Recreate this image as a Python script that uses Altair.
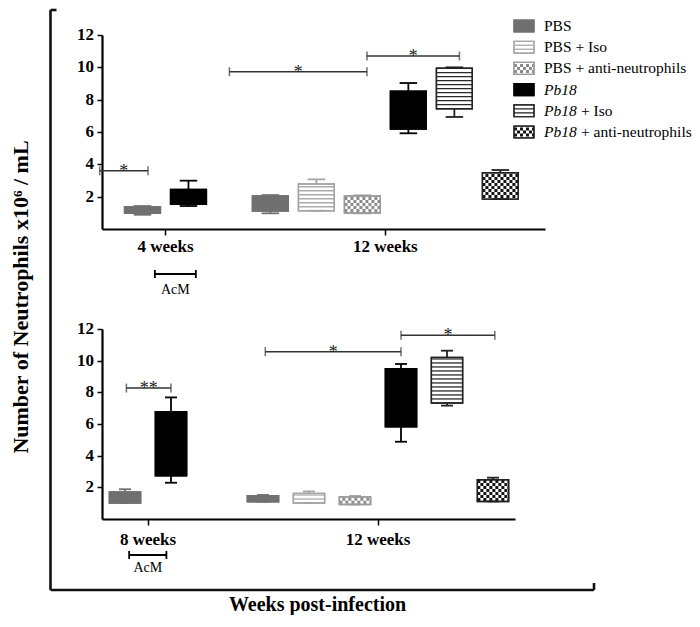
import altair as alt
import numpy as np
import pandas as pd

# ---------------- data ----------------
SERIES = ["PBS", "PBS + Iso", "PBS + anti-neutrophils",
          "Pb18", "Pb18 + Iso", "Pb18 + anti-neutrophils"]

# Upper panel
top_group = ["4 weeks", "4 weeks", "12 weeks", "12 weeks", "12 weeks",
             "12 weeks", "12 weeks", "12 weeks"]
top_series = ["PBS", "Pb18", "PBS", "PBS + Iso", "PBS + anti-neutrophils",
              "Pb18", "Pb18 + Iso", "Pb18 + anti-neutrophils"]
top_min = [0.88, 1.42, 0.97, 1.13, 0.97, 5.92, 6.93, 1.85]
top_q1 = [0.97, 1.53, 1.11, 1.13, 0.99, 6.18, 7.44, 1.85]
top_q3 = [1.38, 2.45, 2.04, 2.78, 2.04, 8.53, 9.94, 3.48]
top_max = [1.42, 2.99, 2.10, 3.07, 2.08, 9.03, 10.00, 3.65]
top_sig_x1 = [-0.05, 2.77, 5.76]
top_sig_x2 = [1.00, 5.76, 7.77]
top_sig_y = [3.60, 9.73, 10.70]
top_sig_label = ["*", "*", "*"]
top_acm = [1.15, 2.04]

# Lower panel
bot_group = ["8 weeks", "8 weeks", "12 weeks", "12 weeks", "12 weeks",
             "12 weeks", "12 weeks", "12 weeks"]
bot_series = ["PBS", "Pb18", "PBS", "PBS + Iso", "PBS + anti-neutrophils",
              "Pb18", "Pb18 + Iso", "Pb18 + anti-neutrophils"]
bot_min = [1.01, 2.29, 1.09, 1.01, 0.92, 4.88, 7.16, 1.11]
bot_q1 = [1.01, 2.73, 1.09, 1.01, 0.92, 5.83, 7.33, 1.11]
bot_q3 = [1.71, 6.78, 1.47, 1.62, 1.39, 9.49, 10.21, 2.48]
bot_max = [1.88, 7.68, 1.52, 1.74, 1.45, 9.79, 10.63, 2.61]
bot_sig_x1 = [0.53, 3.55, 6.50]
bot_sig_x2 = [1.50, 6.50, 8.54]
bot_sig_y = [8.27, 10.57, 11.60]
bot_sig_label = ["**", "*", "*"]
bot_acm = [0.59, 1.40]

acm_label = "AcM"
y_title = "Number of Neutrophils x10\u2076 / mL"
x_title = "Weeks post-infection"
y_ticks = [2, 4, 6, 8, 10, 12]

# ---------------- styles ----------------
FONT = "Liberation Serif"
FILLS = ["#707070", "#ffffff", "#ffffff", "#000000", "#ffffff", "#ffffff"]
STROKES = ["#707070", "#a4a4a4", "#9a9a9a", "#000000", "#222222", "#222222"]
PATTERN = {"PBS + Iso": ("stripe", "#acacac"),
           "Pb18 + Iso": ("stripe", "#2a2a2a"),
           "PBS + anti-neutrophils": ("check", "#8c8c8c"),
           "Pb18 + anti-neutrophils": ("check", "#151515")}
STRIPE_PX = 4.0
CHECK_PX = 3.0
fill_scale = alt.Scale(domain=SERIES, range=FILLS)
stroke_scale = alt.Scale(domain=SERIES, range=STROKES)
AX = dict(labels=False, domainColor="black", tickColor="black", domainWidth=2.2,
          tickWidth=1.5, grid=False, title=None)


def pattern_rows(frame, lo, hi, unit_px):
    rows = []
    for _, r in frame.iterrows():
        if r["series"] not in PATTERN:
            continue
        kind, col = PATTERN[r["series"]]
        a, b = r[lo], r[hi]
        if kind == "stripe":
            step = STRIPE_PX / unit_px
            n = int(np.floor((b - a) / step))
            for k in range(1, n + 1):
                yv = a + k * step
                if yv < b - step * 0.3:
                    rows.append(dict(kind="stripe", y=yv, pc=col, par=0,
                                     **{c: r[c] for c in r.index}))
        else:
            step = CHECK_PX / unit_px
            n = int(np.floor((b - a) / step))
            off = ((b - a) - n * step) / 2
            for k in range(n):
                rows.append(dict(kind="check", y=a + off + (k + 0.5) * step, pc=col,
                                 par=k % 2, **{c: r[c] for c in r.index}))
    return pd.DataFrame(rows)


def panel(groups, ser, mn, q1, q3, mx, sx1, sx2, sy, slab, acm, geo, extra=None):
    W, H = geo["width"], geo["height"]
    ppu_y = H / 12.0
    ppu_x = 46.0
    xs = alt.Scale(domain=[0, W / ppu_x], nice=False, zero=False)
    ys = alt.Scale(domain=[0, 12], nice=False, zero=False)

    df = pd.DataFrame(dict(group=groups, series=ser, lo=mn, q1=q1, q3=q3, hi=mx))
    order = list(dict.fromkeys(groups))
    df["gi"] = df["group"].map(order.index)
    df["slot"] = df.groupby("group").cumcount()
    df["pos"] = [geo["starts"][g] for g in df["gi"]] + df["slot"]
    df["xa"] = df["pos"] - geo["half"]
    df["xb"] = df["pos"] + geo["half"]
    df["ca"] = df["pos"] - geo["cap"]
    df["cb"] = df["pos"] + geo["cap"]
    centers = [float(df[df.gi == g]["pos"].mean()) for g in range(len(order))]

    xaxis = alt.Axis(values=centers, tickSize=6, **AX)
    yaxis = alt.Axis(values=y_ticks, tickSize=5, **AX)

    def XQ(f):
        return alt.X(f, type="quantitative", scale=xs, axis=xaxis)

    def YQ(f):
        return alt.Y(f, type="quantitative", scale=ys, axis=yaxis)

    base = alt.Chart(df)
    box = base.mark_rect(strokeWidth=1.4).encode(
        x=XQ("xa"), x2="xb:Q", y=YQ("q1"), y2="q3:Q",
        fill=alt.Fill("series:N", scale=fill_scale, legend=None),
        stroke=alt.Stroke("series:N", scale=stroke_scale, legend=None))

    pat = pattern_rows(df, "q1", "q3", ppu_y)
    stripes = alt.Chart(pat[pat.kind == "stripe"]).mark_rule(strokeWidth=1.3).encode(
        x=XQ("xa"), x2="xb:Q", y=YQ("y"), color=alt.Color("pc:N", scale=None))
    chk0 = alt.Chart(pat[(pat.kind == "check") & (pat.par == 0)]).mark_rule(
        strokeWidth=CHECK_PX, strokeDash=[CHECK_PX, CHECK_PX], strokeCap="butt").encode(
        x=XQ("xa"), x2="xb:Q", y=YQ("y"), color=alt.Color("pc:N", scale=None))
    chk1 = alt.Chart(pat[(pat.kind == "check") & (pat.par == 1)]).mark_rule(
        strokeWidth=CHECK_PX, strokeDash=[CHECK_PX, CHECK_PX], strokeDashOffset=CHECK_PX,
        strokeCap="butt").encode(
        x=XQ("xa"), x2="xb:Q", y=YQ("y"), color=alt.Color("pc:N", scale=None))
    outline = base.mark_rect(fillOpacity=0, strokeWidth=1.4).encode(
        x=XQ("xa"), x2="xb:Q", y=YQ("q1"), y2="q3:Q",
        stroke=alt.Stroke("series:N", scale=stroke_scale, legend=None))
    wlo = base.mark_rule(strokeWidth=1.8).encode(
        x=XQ("pos"), y=YQ("lo"), y2="q1:Q",
        stroke=alt.Stroke("series:N", scale=stroke_scale, legend=None))
    whi = base.mark_rule(strokeWidth=1.8).encode(
        x=XQ("pos"), y=YQ("q3"), y2="hi:Q",
        stroke=alt.Stroke("series:N", scale=stroke_scale, legend=None))
    clo = base.mark_rule(strokeWidth=1.8).encode(
        x=XQ("ca"), x2="cb:Q", y=YQ("lo"),
        stroke=alt.Stroke("series:N", scale=stroke_scale, legend=None))
    chi = base.mark_rule(strokeWidth=1.8).encode(
        x=XQ("ca"), x2="cb:Q", y=YQ("hi"),
        stroke=alt.Stroke("series:N", scale=stroke_scale, legend=None))

    # axis labels (serif bold, as text marks positioned by the scales)
    ylab = pd.DataFrame(dict(v=y_ticks, t=[str(v) for v in y_ticks]))
    ylab_txt = alt.Chart(ylab).mark_text(font=FONT, fontSize=17, fontWeight="bold",
                                         align="right", baseline="middle", dx=-8,
                                         color="black").encode(
        x=alt.value(0), y=YQ("v"), text="t:N")
    xlab = pd.DataFrame(dict(c=centers, t=order))
    xlab_txt = alt.Chart(xlab).mark_text(font=FONT, fontSize=17, fontWeight="bold",
                                         align="center", baseline="middle",
                                         color="black").encode(
        x=XQ("c"), y=alt.value(H + geo["xlab"]), text="t:N")

    sig = pd.DataFrame(dict(x1=sx1, x2=sx2, y=sy, lab=slab))
    sig["xm"] = (sig.x1 + sig.x2) / 2
    sig_long = pd.concat([sig[["x1", "y"]].rename(columns={"x1": "x"}),
                          sig[["x2", "y"]].rename(columns={"x2": "x"})])
    sig_line = alt.Chart(sig).mark_rule(strokeWidth=1.5, color="#333333").encode(
        x=XQ("x1"), x2="x2:Q", y=YQ("y"))
    sig_tick = alt.Chart(sig_long).mark_tick(orient="vertical", size=9, thickness=1.5,
                                             color="#333333").encode(
        x=XQ("x"), y=YQ("y"))
    sig_txt = alt.Chart(sig).mark_text(font=FONT, fontSize=18, baseline="alphabetic",
                                       dy=6, color="#222222").encode(
        x=XQ("xm"), y=YQ("y"), text="lab:N")

    ac = pd.DataFrame(dict(a=[acm[0]], b=[acm[1]], m=[(acm[0] + acm[1]) / 2], t=[acm_label]))
    ac_long = pd.DataFrame(dict(x=acm))
    ay = H + geo["acm_off"]
    acm_line = alt.Chart(ac).mark_rule(strokeWidth=1.8, color="black").encode(
        x=XQ("a"), x2="b:Q", y=alt.value(ay))
    acm_tick = alt.Chart(ac_long).mark_rule(strokeWidth=1.8, color="black").encode(
        x=XQ("x"), y=alt.value(ay - 4), y2=alt.value(ay + 4))
    acm_txt = alt.Chart(ac).mark_text(font=FONT, fontSize=14, baseline="middle",
                                      color="black").encode(
        x=XQ("m"), y=alt.value(H + geo["acm_txt"]), text="t:N")

    main = alt.layer(box, stripes, chk0, chk1, outline, wlo, whi, clo, chi,
                     ylab_txt, xlab_txt,
                     sig_line, sig_tick, sig_txt, acm_line, acm_tick, acm_txt)
    if extra is not None:
        main = alt.layer(main, *extra).resolve_scale(y="independent")
    return main.properties(width=W, height=H)


# ---------------- legend (upper panel) ----------------
leg = pd.DataFrame(dict(series=SERIES))
leg["i"] = range(len(SERIES))
leg["ya"] = leg["i"] + 0.22
leg["yb"] = leg["i"] + 0.78
leg["yc"] = leg["i"] + 0.5
leg["ital"] = leg["series"].str.startswith("Pb18")
leg["t_main"] = [s.split(" + ")[0] if it else s for s, it in zip(leg.series, leg.ital)]
leg["t_rest"] = [("+ " + s.split(" + ", 1)[1]) if (it and " + " in s) else ""
                 for s, it in zip(leg.series, leg.ital)]
LEG_ROW_PX = 21.2
ly = alt.Scale(domain=[0, 6], range=[-19.6, -19.6 + 6 * LEG_ROW_PX], nice=False, zero=False)
LX0, LX1, LTX = 412, 432, 442


def LY(f):
    return alt.Y(f, type="quantitative", scale=ly, axis=None)


leg_pat = pattern_rows(leg, "ya", "yb", LEG_ROW_PX)
leg_box = alt.Chart(leg).mark_rect(strokeWidth=1.2).encode(
    x=alt.value(LX0), x2=alt.value(LX1), y=LY("ya"), y2="yb:Q",
    fill=alt.Fill("series:N", scale=fill_scale, legend=None),
    stroke=alt.Stroke("series:N", scale=stroke_scale, legend=None))
leg_str = alt.Chart(leg_pat[leg_pat.kind == "stripe"]).mark_rule(strokeWidth=1.3).encode(
    x=alt.value(LX0), x2=alt.value(LX1), y=LY("y"), color=alt.Color("pc:N", scale=None))
leg_c0 = alt.Chart(leg_pat[(leg_pat.kind == "check") & (leg_pat.par == 0)]).mark_rule(
    strokeWidth=CHECK_PX, strokeDash=[CHECK_PX, CHECK_PX], strokeCap="butt").encode(
    x=alt.value(LX0), x2=alt.value(LX1), y=LY("y"), color=alt.Color("pc:N", scale=None))
leg_c1 = alt.Chart(leg_pat[(leg_pat.kind == "check") & (leg_pat.par == 1)]).mark_rule(
    strokeWidth=CHECK_PX, strokeDash=[CHECK_PX, CHECK_PX], strokeDashOffset=CHECK_PX,
    strokeCap="butt").encode(
    x=alt.value(LX0), x2=alt.value(LX1), y=LY("y"), color=alt.Color("pc:N", scale=None))
leg_out = alt.Chart(leg).mark_rect(fillOpacity=0, strokeWidth=1.2).encode(
    x=alt.value(LX0), x2=alt.value(LX1), y=LY("ya"), y2="yb:Q",
    stroke=alt.Stroke("series:N", scale=stroke_scale, legend=None))
leg_t_plain = alt.Chart(leg[~leg.ital]).mark_text(
    font=FONT, fontSize=15.5, align="left", baseline="middle", color="black").encode(
    x=alt.value(LTX), y=LY("yc"), text="t_main:N")
leg_t_ital = alt.Chart(leg[leg.ital]).mark_text(
    font=FONT, fontSize=15.5, fontStyle="italic", align="left", baseline="middle",
    color="black").encode(
    x=alt.value(LTX), y=LY("yc"), text="t_main:N")
leg_t_rest = alt.Chart(leg[leg.ital & (leg.t_rest != "")]).mark_text(
    font=FONT, fontSize=15.5, align="left", baseline="middle", color="black").encode(
    x=alt.value(LTX + 37), y=LY("yc"), text="t_rest:N")
legend = alt.layer(leg_box, leg_str, leg_c0, leg_c1, leg_out,
                   leg_t_plain, leg_t_ital, leg_t_rest)

# ---------------- frame bracket and titles (pixel layout, upper panel frame) ----------------
one = pd.DataFrame(dict(yt=[y_title], xt=[x_title]))
BX, BT, BB, BR = -51.5, -25, 555, 492
frame_v = alt.Chart(one).mark_rule(strokeWidth=2.6, color="#111111").encode(
    x=alt.value(BX), y=alt.value(BT), y2=alt.value(BB))
frame_t = alt.Chart(one).mark_rule(strokeWidth=2.6, color="#111111").encode(
    x=alt.value(BX), x2=alt.value(BX + 6), y=alt.value(BT))
frame_b = alt.Chart(one).mark_rule(strokeWidth=2.6, color="#111111").encode(
    x=alt.value(BX), x2=alt.value(BR), y=alt.value(BB))
frame_r = alt.Chart(one).mark_rule(strokeWidth=2.6, color="#111111").encode(
    x=alt.value(BR), y=alt.value(BB - 7), y2=alt.value(BB))
ytitle = alt.Chart(one).mark_text(font=FONT, fontSize=22, fontWeight="bold", angle=270,
                                  align="center", baseline="middle", color="black").encode(
    x=alt.value(-81), y=alt.value(262), text="yt:N")
xtitle = alt.Chart(one).mark_text(font=FONT, fontSize=20, fontWeight="bold",
                                  align="center", baseline="middle", color="black").encode(
    x=alt.value(215.5), y=alt.value(570), text="xt:N")
decor = alt.layer(frame_v, frame_t, frame_b, frame_r, ytitle, xtitle)

TOP_GEO = dict(width=443, height=194, starts=[0.88, 3.66], half=0.39, cap=0.19,
               acm_off=45, acm_txt=61, xlab=18)
BOT_GEO = dict(width=413, height=190, starts=[0.5, 3.5], half=0.34, cap=0.13,
               acm_off=36, acm_txt=49, xlab=21)

top = panel(top_group, top_series, top_min, top_q1, top_q3, top_max,
            top_sig_x1, top_sig_x2, top_sig_y, top_sig_label, top_acm, TOP_GEO,
            extra=[legend, decor])
bottom = panel(bot_group, bot_series, bot_min, bot_q1, bot_q3, bot_max,
               bot_sig_x1, bot_sig_x2, bot_sig_y, bot_sig_label, bot_acm, BOT_GEO)

chart = alt.vconcat(top, bottom, spacing=100, bounds="flush").properties(
    padding={"left": 2, "top": 0, "right": 0, "bottom": 0},
    background="white"
).configure_view(stroke=None).configure_axis(
    domainColor="black", tickColor="black", grid=False
)

chart.save("out.html", embed_options={"renderer": "svg", "actions": False})
